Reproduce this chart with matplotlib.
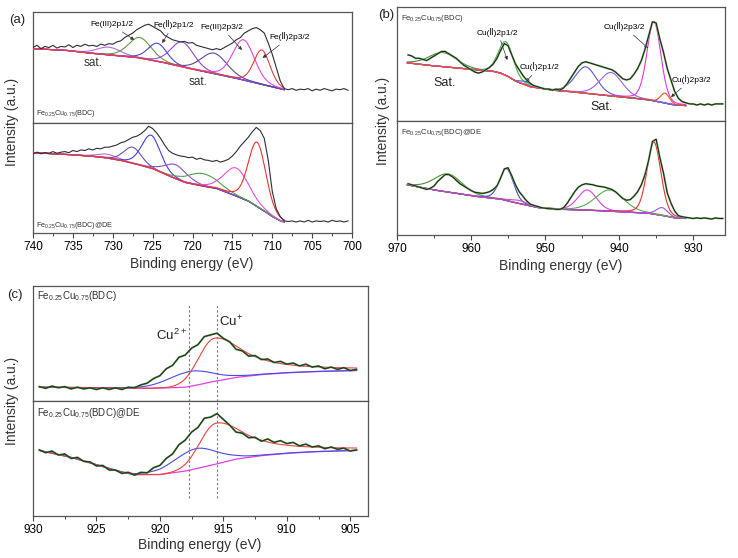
import numpy as np
import matplotlib
matplotlib.use('Agg')
import matplotlib.pyplot as plt
from matplotlib.ticker import MultipleLocator

plt.rcParams['font.family'] = ['Liberation Sans', 'DejaVu Sans', 'Noto Sans CJK SC']
plt.rcParams['mathtext.default'] = 'regular'

# ---------------- DATA ----------------
# Panel (a) Fe 2p, raw spectra sampled every 0.5 eV from 740 eV downward
A_TOP_RAW = [68, 70, 67, 69, 68, 70, 67.5, 69, 68.5, 70.5, 68, 70, 69, 71, 69.5, 70, 69, 71, 70, 71.5,
             71, 73, 74, 77, 79, 81, 84, 86, 88, 89, 87, 85, 83, 79, 77, 75, 74, 73, 73.5, 72,
             72.5, 70, 69, 68, 67, 66, 67, 66, 68, 70, 72, 75, 77, 81, 83, 85, 86, 84, 81, 72,
             62, 50, 38, 31, 30, 31, 29.5, 30.5, 30, 31, 29, 30.5, 29.5, 31, 30, 29, 30.5, 30, 31, 29.5]
A_BOT_RAW = [72, 73.5, 72, 73, 72.5, 74, 72.5, 73.5, 74, 73, 75, 74, 75.5, 75, 76.5, 75.5, 77, 76.5, 78, 78,
             79, 80, 82, 83, 85, 87, 88, 90, 93, 97, 95, 91, 86, 80, 75, 72.5, 71, 70, 69.5, 68.5,
             69, 67, 68, 66.5, 66, 65, 66, 64.5, 65.5, 67, 70, 74, 79, 83, 87, 92, 96, 93, 86, 66,
             38, 22, 15, 11, 10.5, 11, 10, 11, 10, 11.5, 10, 11, 10.5, 11, 10, 11.5, 10.5, 11, 10, 11]
A_TOP_BG_X = [740, 736, 733, 730, 727, 724, 721, 718, 715, 712, 710, 708.5]
A_TOP_BG_Y = [67, 65.5, 63, 61, 59, 55, 50, 45.5, 41, 36, 32.5, 30]
A_TOP_PK_C = [730.5, 726.6, 724.4, 721.3, 717.3, 713.6, 711.3]
A_TOP_PK_A = [7, 18.5, 16.3, 22.5, 18.5, 36.3, 31]
A_TOP_PK_W = [3.5, 3.4, 2.8, 3.4, 3.8, 3.2, 2.4]
A_TOP_PK_COL = ['#b868d8', '#5c9e3c', '#4848e8', '#9a48d8', '#5a4a9a', '#e048e0', '#f03a3a']
A_BOT_BG_X = [740, 736, 733, 731, 729, 727, 725, 723, 721, 719, 717, 715, 713, 711, 710, 709, 708.5]
A_BOT_BG_Y = [73, 71.5, 70, 68.5, 66, 62.5, 58.5, 52, 46, 43, 40.5, 35, 29, 20, 15, 11, 10]
A_BOT_PK_C = [730.7, 727.5, 725.2, 722.1, 718.7, 714.5, 711.9]
A_BOT_PK_A = [3.5, 14.6, 30, 12.7, 11.4, 25.5, 58.5]
A_BOT_PK_W = [3.0, 2.6, 2.8, 3.4, 4.5, 3.6, 2.6]
A_BOT_PK_COL = ['#c070d0', '#6a50c0', '#4040e8', '#9050b0', '#50a050', '#e050e0', '#f03030']

# Panel (b) Cu 2p, raw spectra sampled every 0.5 eV from 968.5 eV downward
B_TOP_RAW = [58, 57, 55, 55, 54, 53, 55, 57, 59, 61, 61, 59, 57, 55, 52, 49, 47, 45, 43, 42,
             43, 45, 47, 50, 55, 62, 68, 66, 58, 50, 45, 40, 36, 33, 31, 30, 29, 28, 28, 27,
             28, 27, 29, 33, 38, 43, 48, 51, 52, 51, 50, 49, 48, 47, 46, 45, 43, 40, 37, 36,
             37, 41, 46, 53, 63, 75, 87, 86, 72, 60, 46, 36, 26, 20, 17, 16, 15, 15, 14, 15,
             14, 15, 14, 15, 15, 15]
B_BOT_RAW = [45, 44, 43, 42, 41, 40, 41, 43, 47, 50, 53, 53, 51, 48, 45, 43, 41, 39, 37.5, 37,
             36.5, 37, 38, 40, 43, 50, 58, 59, 52, 44, 38, 34, 30, 27, 26, 25, 24, 23.5, 23, 23,
             22.5, 22.5, 24, 28, 33, 38, 42, 44, 45, 44.5, 44, 43, 42.5, 42, 41, 40, 38, 35, 32, 30.5,
             31, 34, 38, 44, 53, 66, 82, 84, 68, 54, 37, 28, 21, 17, 16, 15.5, 15, 14.5, 15, 14.5,
             15, 14.5, 14, 15, 14.5, 14.5]
B_TOP_BG_X = [968.6, 966, 962, 959, 957, 956, 955, 954, 952, 949, 947, 942, 938, 936, 934, 932.5, 931]
B_TOP_BG_Y = [51, 49, 46.5, 44.7, 43.5, 42, 39, 35, 30, 27, 26, 22.5, 20, 18.5, 16, 14, 13.5]
B_TOP_PK_C = [963.8, 955.3, 952.6, 944.5, 941.1, 935.3, 933.8]
B_TOP_PK_A = [12.4, 29.6, 3, 23.2, 20.6, 69.8, 8.7]
B_TOP_PK_W = [4.5, 2.4, 1.8, 3.4, 3.6, 2.2, 1.4]
B_TOP_PK_COL = ['#4f8f3f', '#48b048', '#4060e0', '#5858d8', '#a060e8', '#e038e0', '#f05020']
B_BOT_BG_X = [968.6, 965, 961, 959, 956, 954.5, 951, 948, 945, 940, 936, 934, 932.5, 931]
B_BOT_BG_Y = [44, 39.5, 35.5, 33.6, 31.5, 29, 24, 22.5, 22, 20.5, 19, 17, 15, 14.5]
B_BOT_PK_C = [963.1, 955.2, 953.5, 944.3, 941.3, 935.3, 934.2]
B_BOT_PK_A = [16, 28, 2.7, 17.7, 18.6, 63.3, 6.8]
B_BOT_PK_W = [4.5, 2.2, 3.0, 3.0, 4.5, 2.2, 1.8]
B_BOT_PK_COL = ['#4f8f3f', '#4848e0', '#d050d0', '#e040e0', '#50b050', '#f03030', '#a050e0']

# Panel (c) Cu LMM, raw spectra sampled every 0.5 eV from 929.5 eV downward
C_TOP_RAW = [12.5, 11, 13, 11.5, 12.5, 10.5, 12, 10.5, 11.5, 10, 11.5, 10, 11.5, 10, 12, 11.5, 14, 15.5, 19.5, 22,
             28, 31, 38, 40, 46, 49, 56, 57.5, 59, 54.5, 51.5, 45, 43.5, 39, 39.5, 36, 36.5, 33.5, 34.5, 32,
             33, 30.5, 32, 29.5, 30.5, 28, 29.5, 27.5, 29, 26.5, 27.5]
C_BOT_RAW = [57.5, 55, 56.5, 53, 54, 50, 51, 47.5, 47, 43.5, 44, 40, 40, 37, 38, 35.5, 38, 37.5, 42, 44,
             50, 54, 62, 66, 73, 77, 85, 86, 89, 84, 79, 73, 72, 68, 68.5, 65, 67, 64, 65.5, 63,
             64, 61, 62.5, 60, 61, 58.5, 60, 58, 59, 56.5, 57.5]
C_TOP_BG_X = [929.5, 921, 919, 918, 917, 916, 915, 914, 912, 910, 908, 904.5]
C_TOP_BG_Y = [12, 11, 11.5, 12, 14, 16.5, 18.5, 20.5, 23, 24.5, 25.5, 26.5]
C_BOT_BG_X = [929.5, 927, 925, 923, 922, 920, 918, 917, 916, 914, 912, 910, 908, 904.5]
C_BOT_BG_Y = [57, 51, 44.5, 38, 36, 36, 39, 41.5, 44, 49.5, 52.5, 54.5, 55.8, 57]
C_TOP_PK_C = [917.6, 915.7]
C_TOP_PK_A = [13, 37.5]
C_BOT_PK_C = [917.2, 915.6]
C_BOT_PK_A = [17.5, 35.5]
C_PK_W = [4.0, 3.0]
C_PK_TAIL = [None, 2.8]
C_PK_COL = ['#4a4ae0', '#f04040']
C_LINES = [917.7, 915.5]
C_LINE_LABELS = ['Cu$^{2+}$', 'Cu$^{+}$']

SAMPLE_1 = 'Fe$_{0.25}$Cu$_{0.75}$(BDC)'
SAMPLE_2 = 'Fe$_{0.25}$Cu$_{0.75}$(BDC)@DE'

# ---------------- HELPERS ----------------
def raw_xy(start, vals, step=0.5):
    v = np.asarray(vals, float)
    return start - step * np.arange(len(v)), v

def shape(x, c, fwhm, tail=None, eta=0.2):
    s = fwhm / 2.3548
    g = np.exp(-0.5 * ((x - c) / s) ** 2)
    if tail is not None:
        l = 1.0 / (1.0 + ((x - c) / tail) ** 2)
        return np.where(x < c, l, g)
    l = 1.0 / (1.0 + ((x - c) / (fwhm / 2)) ** 2)
    return (1 - eta) * g + eta * l

def draw_fit(ax, bgx, bgy, centers, amps, widths, cols, bgcol, tails=None, bgcol2=None):
    bgx = np.asarray(bgx, float); bgy = np.asarray(bgy, float)
    xf = np.linspace(bgx[0], bgx[-1], 700)
    b = np.interp(xf, bgx[::-1], bgy[::-1])
    ax.plot(xf, b, color=bgcol, lw=0.9, zorder=2)
    if bgcol2:
        ax.plot(xf, b, color=bgcol2, lw=0.6, zorder=2.1)
    for i, (c, a, w, col) in enumerate(zip(centers, amps, widths, cols)):
        t = None if tails is None else tails[i]
        ax.plot(xf, b + a * shape(xf, c, w, t), color=col, lw=0.8, zorder=3)

fig = plt.figure(figsize=(7.38, 5.58), dpi=100)

def add(l, r, t, b):
    return fig.add_axes([l / 738, 1 - b / 558, (r - l) / 738, (b - t) / 558])

def style(ax, xlim, major, minor, bottom):
    ax.set_xlim(*xlim)
    ax.set_ylim(0, 100)
    ax.set_yticks([])
    for s in ax.spines.values():
        s.set_color('#555555'); s.set_linewidth(0.9)
    ax.xaxis.set_major_locator(MultipleLocator(major))
    ax.xaxis.set_minor_locator(MultipleLocator(minor))
    ax.tick_params(axis='x', which='major', direction='out', length=3.5, width=0.8,
                   color='#444444', labelsize=8.5, pad=2)
    ax.tick_params(axis='x', which='minor', direction='out', length=2, width=0.7, color='#444444')
    if not bottom:
        ax.tick_params(axis='x', which='both', bottom=False, labelbottom=False)

# ---------------- PANEL (a) ----------------
a1 = add(33, 352, 12, 123)
a2 = add(33, 352, 123, 233)
for ax, bottom in ((a1, False), (a2, True)):
    style(ax, (740, 700), 5, 2.5, bottom)
draw_fit(a1, A_TOP_BG_X, A_TOP_BG_Y, A_TOP_PK_C, A_TOP_PK_A, A_TOP_PK_W, A_TOP_PK_COL, '#d08a40', bgcol2='#7a3aa0')
draw_fit(a2, A_BOT_BG_X, A_BOT_BG_Y, A_BOT_PK_C, A_BOT_PK_A, A_BOT_PK_W, A_BOT_PK_COL, '#e07040', bgcol2='#6a9a40')
x, y = raw_xy(740, A_TOP_RAW)
a1.plot(x, y, color='#2b2d3a', lw=0.8, zorder=4)
x, y = raw_xy(740, A_BOT_RAW)
a2.plot(x, y, color='#2b2d3a', lw=0.8, zorder=4)

ann = dict(arrowstyle='-|>', lw=0.5, color='#333333', mutation_scale=5, shrinkA=1, shrinkB=0)
a1.annotate('Fe(III)2p1/2', xy=(727.3, 74.8), xytext=(730.1, 88.3), fontsize=6, ha='center', va='center', arrowprops=ann)
a1.annotate('Fe(Ⅱ)2p1/2', xy=(723.8, 72), xytext=(722.4, 88.3), fontsize=6, ha='center', va='center', arrowprops=ann)
a1.annotate('Fe(III)2p3/2', xy=(713.8, 65.8), xytext=(716.3, 85.6), fontsize=6, ha='center', va='center', arrowprops=ann)
a1.annotate('Fe(Ⅱ)2p3/2', xy=(711.2, 58.6), xytext=(707.8, 77.5), fontsize=6, ha='center', va='center', arrowprops=ann)
a1.text(732.5, 54, 'sat.', fontsize=8.5, ha='center', va='center', color='#333333')
a1.text(719.3, 37, 'sat.', fontsize=8.5, ha='center', va='center', color='#333333')
a1.text(0.01, 0.09, SAMPLE_1, transform=a1.transAxes, fontsize=5.2, ha='left', va='center', color='#333333')
a2.text(0.01, 0.07, SAMPLE_2, transform=a2.transAxes, fontsize=5.2, ha='left', va='center', color='#333333')

# ---------------- PANEL (b) ----------------
b1 = add(397, 725, 7, 121)
b2 = add(397, 725, 121, 235)
for ax, bottom in ((b1, False), (b2, True)):
    style(ax, (970, 925.7), 10, 5, bottom)
draw_fit(b1, B_TOP_BG_X, B_TOP_BG_Y, B_TOP_PK_C, B_TOP_PK_A, B_TOP_PK_W, B_TOP_PK_COL, '#b85040')
draw_fit(b2, B_BOT_BG_X, B_BOT_BG_Y, B_BOT_PK_C, B_BOT_PK_A, B_BOT_PK_W, B_BOT_PK_COL, '#b85040')
for ax, vals in ((b1, B_TOP_RAW), (b2, B_BOT_RAW)):
    x, y = raw_xy(968.5, vals)
    ax.plot(x, y, color='#7ab86a', lw=1.4, zorder=4)
    ax.plot(x, y, color='#1a1a1a', lw=0.7, zorder=5)

b1.annotate('Cu(Ⅱ)2p1/2', xy=(955.1, 53.5), xytext=(956.4, 78), fontsize=6, ha='center', va='center', arrowprops=ann)
b1.annotate('Cu(Ⅰ)2p1/2', xy=(952.6, 34.2), xytext=(950.8, 47.4), fontsize=6, ha='center', va='center', arrowprops=ann)
b1.annotate('Cu(Ⅱ)2p3/2', xy=(936.1, 64), xytext=(939.3, 82.5), fontsize=6, ha='center', va='center', arrowprops=ann)
b1.annotate('Cu(Ⅰ)2p3/2', xy=(933.0, 21), xytext=(930.3, 36), fontsize=6, ha='center', va='center', arrowprops=ann)
b1.text(963.6, 33.3, 'Sat.', fontsize=9, ha='center', va='center', color='#222222')
b1.text(942.4, 12.3, 'Sat.', fontsize=9, ha='center', va='center', color='#222222')
b1.text(0.012, 0.90, SAMPLE_1, transform=b1.transAxes, fontsize=5.5, ha='left', va='center', color='#333333')
b2.text(0.012, 0.90, SAMPLE_2, transform=b2.transAxes, fontsize=5.5, ha='left', va='center', color='#333333')

# ---------------- PANEL (c) ----------------
c1 = add(33, 368, 286, 401)
c2 = add(33, 368, 401, 516)
for ax, bottom in ((c1, False), (c2, True)):
    style(ax, (930, 903.6), 5, 2.5, bottom)
draw_fit(c1, C_TOP_BG_X, C_TOP_BG_Y, C_TOP_PK_C, C_TOP_PK_A, C_PK_W, C_PK_COL, '#e040e0', tails=C_PK_TAIL)
draw_fit(c2, C_BOT_BG_X, C_BOT_BG_Y, C_BOT_PK_C, C_BOT_PK_A, C_PK_W, C_PK_COL, '#e040e0', tails=C_PK_TAIL)
for ax, vals in ((c1, C_TOP_RAW), (c2, C_BOT_RAW)):
    x, y = raw_xy(929.5, vals)
    ax.plot(x, y, color='#3a7a34', lw=1.3, zorder=4)
    ax.plot(x, y, color='#1a1a1a', lw=0.55, zorder=5, alpha=0.85)
for xv in C_LINES:
    c1.axvline(xv, ymin=0, ymax=0.835, color='#777777', lw=0.8, ls=(0, (2, 2)), zorder=1)
    c2.axvline(xv, ymin=0.157, ymax=1, color='#777777', lw=0.8, ls=(0, (2, 2)), zorder=1)
c1.text(919.1, 57.4, C_LINE_LABELS[0], fontsize=9.5, ha='center', va='center', color='#222222')
c1.text(914.4, 68.7, C_LINE_LABELS[1], fontsize=9.5, ha='center', va='center', color='#222222')
c1.text(0.012, 0.91, SAMPLE_1, transform=c1.transAxes, fontsize=7, ha='left', va='center', color='#333333')
c2.text(0.012, 0.90, SAMPLE_2, transform=c2.transAxes, fontsize=7, ha='left', va='center', color='#333333')

# ---------------- FIGURE TEXT ----------------
fig.text(17 / 738, 1 - 20 / 558, '(a)', fontsize=9.5, ha='center', va='center', color='#222222')
fig.text(386 / 738, 1 - 15 / 558, '(b)', fontsize=9.5, ha='center', va='center', color='#222222')
fig.text(15 / 738, 1 - 295 / 558, '(c)', fontsize=9.5, ha='center', va='center', color='#222222')
for (px, py) in ((12, 122), (383, 121), (12, 401)):
    fig.text(px / 738, 1 - py / 558, 'Intensity (a.u.)', rotation=90, fontsize=10,
             ha='center', va='center', color='#333333')
for (px, py) in ((192, 264), (561, 266), (200, 545)):
    fig.text(px / 738, 1 - py / 558, 'Binding energy (eV)', fontsize=10,
             ha='center', va='center', color='#333333')

fig.savefig('out.png', dpi=100)
